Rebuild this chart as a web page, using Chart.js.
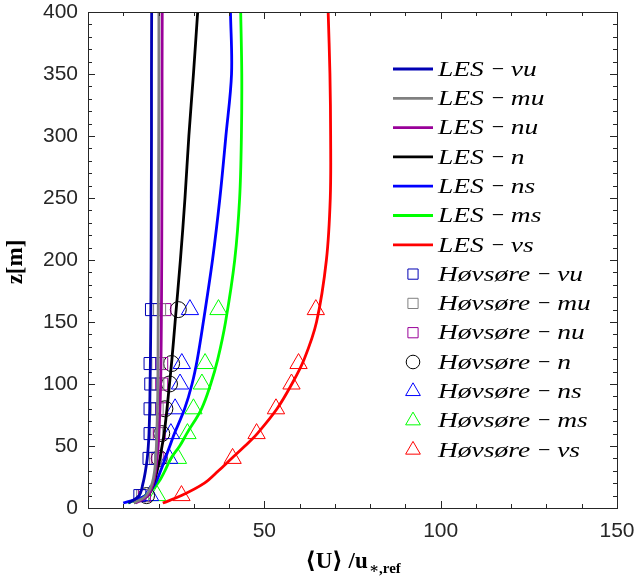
<!DOCTYPE html>
<html>
<head>
<meta charset="utf-8">
<script src="https://cdn.jsdelivr.net/npm/chart.js@4.4.1/dist/chart.umd.min.js"></script>
<style>
  html, body { margin: 0; padding: 0; background: #fff; }
  #wrap { width: 636px; height: 579px; }
</style>
</head>
<body>
<div id="wrap"><canvas id="profileChart"></canvas></div>
<script>
// LES profile heights (m) and mean wind speed per stability class
const lesZ  = [4, 10, 20, 30, 40, 50, 60, 80, 100, 120, 150, 200, 250, 300, 350, 400];
const lesVu = [11.5, 14.5, 15.6, 16.3, 16.8, 17.1, 17.3, 17.5, 17.6, 17.7, 17.8, 17.9, 17.95, 18.0, 18.0, 18.05];
const lesMu = [13.0, 16.5, 18.2, 18.9, 19.2, 19.4, 19.5, 19.7, 19.8, 19.85, 19.9, 20.0, 20.0, 20.05, 20.1, 20.1];
const lesNu = [13.5, 17.0, 18.5, 19.2, 19.6, 19.9, 20.1, 20.4, 20.6, 20.7, 20.8, 20.9, 20.95, 21.0, 21.0, 21.05];
const lesN  = [13.0, 17.0, 18.6, 19.6, 20.4, 21.0, 21.6, 22.4, 23.1, 23.8, 24.7, 26.2, 27.5, 28.6, 29.9, 31.1];
const lesNs = [10.0, 16.3, 19.1, 20.6, 21.9, 23.2, 24.5, 27.4, 29.5, 31.0, 32.7, 35.3, 37.4, 39.1, 40.7, 40.4];
const lesMs = [11.3, 16.2, 19.8, 21.8, 23.5, 26.0, 28.0, 32.2, 34.8, 36.8, 39.0, 41.6, 43.0, 43.5, 43.6, 43.3];
const lesVs = [21.2, 26.5, 33.0, 37.0, 40.7, 44.5, 48.0, 53.6, 57.8, 61.3, 64.8, 67.6, 68.7, 68.8, 68.6, 68.1];

// Hovsore mast heights (m) and measurements
const mastZ  = [10, 40, 60, 80, 100, 116.5, 160];
const hovVu = [14.7, 17.3, 17.6, 17.6, 17.8, 17.6, 18.0];
const hovMu = [15.5, 19.2, 19.5, 19.6, 19.8, 19.8, 20.3];
const hovNu = [16.0, 19.8, 20.2, 20.9, 20.9, 20.9, 21.8];
const hovN  = [16.6, 20.2, 20.9, 21.8, 23.1, 23.7, 25.6];
const hovNs = [17.6, 23.0, 23.5, 24.7, 26.1, 26.6, 28.9];
const hovMs = [19.6, 25.5, 28.2, 29.9, 32.3, 33.2, 37.0];
const hovVs = [26.5, 41.0, 47.8, 53.3, 57.7, 59.7, 64.6];

const classes = ['vu', 'mu', 'nu', 'n', 'ns', 'ms', 'vs'];
const colors  = ['#0000b4', '#808080', '#990099', '#000000', '#0000ff', '#00ff00', '#ff0000'];
const lesSeries = [lesVu, lesMu, lesNu, lesN, lesNs, lesMs, lesVs];
const hovSeries = [hovVu, hovMu, hovNu, hovN, hovNs, hovMs, hovVs];
const markerStyle = ['rect', 'rect', 'rect', 'circle', 'triangle', 'triangle', 'triangle'];
const markerSize  = { rect: 8.5, circle: 8, triangle: 10 };

const xTicks = [0, 50, 100, 150];
const yTicks = [0, 50, 100, 150, 200, 250, 300, 350, 400];

const toPoints = (xs, zs) => xs.map((v, i) => ({ x: v, y: zs[i] }));

const datasets = [];
lesSeries.forEach((s, i) => {
  datasets.push({
    label: 'LES − ' + classes[i],
    name: 'LES', cls: classes[i],
    data: toPoints(s, lesZ),
    showLine: true,
    borderColor: colors[i],
    borderWidth: 2.8,
    pointRadius: 0,
    tension: 0.35,
    fill: false
  });
});
hovSeries.forEach((s, i) => {
  datasets.push({
    label: 'Høvsøre − ' + classes[i],
    name: 'Høvsøre', cls: classes[i],
    data: toPoints(s, mastZ),
    showLine: false,
    borderColor: colors[i],
    backgroundColor: 'rgba(0,0,0,0)',
    borderWidth: 1,
    pointStyle: markerStyle[i],
    pointRadius: markerSize[markerStyle[i]],
    pointHoverRadius: markerSize[markerStyle[i]]
  });
});

// box, inward ticks, legend and axis titles
const decor = {
  id: 'decor',
  afterDraw(chart) {
    const { ctx, chartArea: a, scales: { x, y } } = chart;
    ctx.save();
    ctx.strokeStyle = '#262626';
    ctx.lineWidth = 1;
    ctx.strokeRect(a.left + 0.5, a.top + 0.5, a.right - a.left, a.bottom - a.top);

    const seg = (x1, y1, x2, y2) => { ctx.beginPath(); ctx.moveTo(x1, y1); ctx.lineTo(x2, y2); ctx.stroke(); };
    for (let v = x.min; v <= x.max; v += 10) {
      const len = v % 50 === 0 ? 7 : 4;
      const px = Math.round(x.getPixelForValue(v)) + 0.5;
      seg(px, a.bottom, px, a.bottom - len);
      seg(px, a.top, px, a.top + len);
    }
    for (let v = y.min; v <= y.max; v += 10) {
      const len = v % 50 === 0 ? 7 : 4;
      const py = Math.round(y.getPixelForValue(v)) + 0.5;
      seg(a.left, py, a.left + len, py);
      seg(a.right, py, a.right - len, py);
    }

    // legend (math-italic look: widened serif italic)
    const lx = a.right - 224, ly = a.top + 57, step = 29.3;
    const sxScale = 1.25;
    const legFont = 'italic 22px "Liberation Serif", "DejaVu Serif", serif';
    const putText = (txt, px, py) => {
      ctx.save();
      ctx.translate(px, py);
      ctx.scale(sxScale, 1);
      ctx.fillText(txt, 0, 0);
      ctx.restore();
      return ctx.measureText(txt).width * sxScale;
    };
    ctx.textBaseline = 'middle';
    ctx.textAlign = 'left';
    chart.data.datasets.forEach((ds, i) => {
      const ry = ly + i * step;
      ctx.strokeStyle = ds.borderColor;
      if (ds.showLine) {
        ctx.lineWidth = 2.8;
        seg(lx, ry, lx + 40, ry);
      } else {
        ctx.lineWidth = 1;
        ctx.fillStyle = 'rgba(0,0,0,0)';
        Chart.helpers.drawPoint(ctx, { pointStyle: ds.pointStyle, radius: ds.pointRadius * 0.85, rotation: 0, borderWidth: 1 }, lx + 20, ry);
      }
      ctx.fillStyle = '#000';
      ctx.font = legFont;
      let tx = lx + 45;
      tx += putText(ds.name, tx, ry + 1);
      ctx.font = '22px "Liberation Serif", "DejaVu Serif", serif';
      ctx.textAlign = 'center';
      ctx.fillText('−', tx + 14, ry + 1);
      ctx.textAlign = 'left';
      ctx.font = legFont;
      putText(ds.cls, tx + 27, ry + 1);
    });

    // axis titles
    ctx.fillStyle = '#000';
    ctx.textBaseline = 'alphabetic';
    const mainTxt = '⟨U⟩ /u', subTxt = '∗,ref';
    const mainFont = 'bold 23px "Liberation Serif", "DejaVu Serif", serif';
    const subFont = 'bold 15px "Liberation Serif", "DejaVu Serif", serif';
    ctx.font = mainFont;
    const w1 = ctx.measureText(mainTxt).width;
    ctx.font = subFont;
    const w2 = ctx.measureText(subTxt).width;
    const sx = (a.left + a.right) / 2 - (w1 + w2) / 2;
    ctx.font = mainFont;
    ctx.fillText(mainTxt, sx, 568);
    ctx.font = subFont;
    ctx.fillText(subTxt, sx + w1 + 1, 573);

    ctx.save();
    ctx.translate(16, (a.top + a.bottom) / 2 + 2);
    ctx.rotate(-Math.PI / 2);
    ctx.textAlign = 'center';
    ctx.textBaseline = 'middle';
    ctx.font = mainFont;
    ctx.fillText('z[m]', 0, 0);
    ctx.restore();
    ctx.restore();
  }
};

const tickFont = { family: '"Liberation Sans", Arial, Helvetica, sans-serif', size: 21 };

new Chart(document.getElementById('profileChart').getContext('2d'), {
  type: 'scatter',
  data: { datasets },
  options: {
    responsive: true,
    maintainAspectRatio: false,
    animation: false,
    layout: { padding: { top: 12, right: 19, left: 0, bottom: 0 } },
    plugins: { legend: { display: false }, tooltip: { enabled: false } },
    scales: {
      x: {
        type: 'linear', min: 0, max: 150,
        afterBuildTicks: s => { s.ticks = xTicks.map(v => ({ value: v })); },
        afterFit: s => { s.height = 71; s.paddingLeft = 0; s.paddingRight = 0; },
        grid: { display: false, drawTicks: false },
        border: { display: false },
        ticks: { color: '#262626', font: tickFont, padding: 11, maxRotation: 0 }
      },
      y: {
        type: 'linear', min: 0, max: 400,
        afterBuildTicks: s => { s.ticks = yTicks.map(v => ({ value: v })); },
        afterFit: s => { s.width = 88; s.paddingTop = 0; s.paddingBottom = 0; },
        grid: { display: false, drawTicks: false },
        border: { display: false },
        ticks: { color: '#262626', font: tickFont, padding: 10 }
      }
    }
  },
  plugins: [decor]
});
</script>
</body>
</html>
